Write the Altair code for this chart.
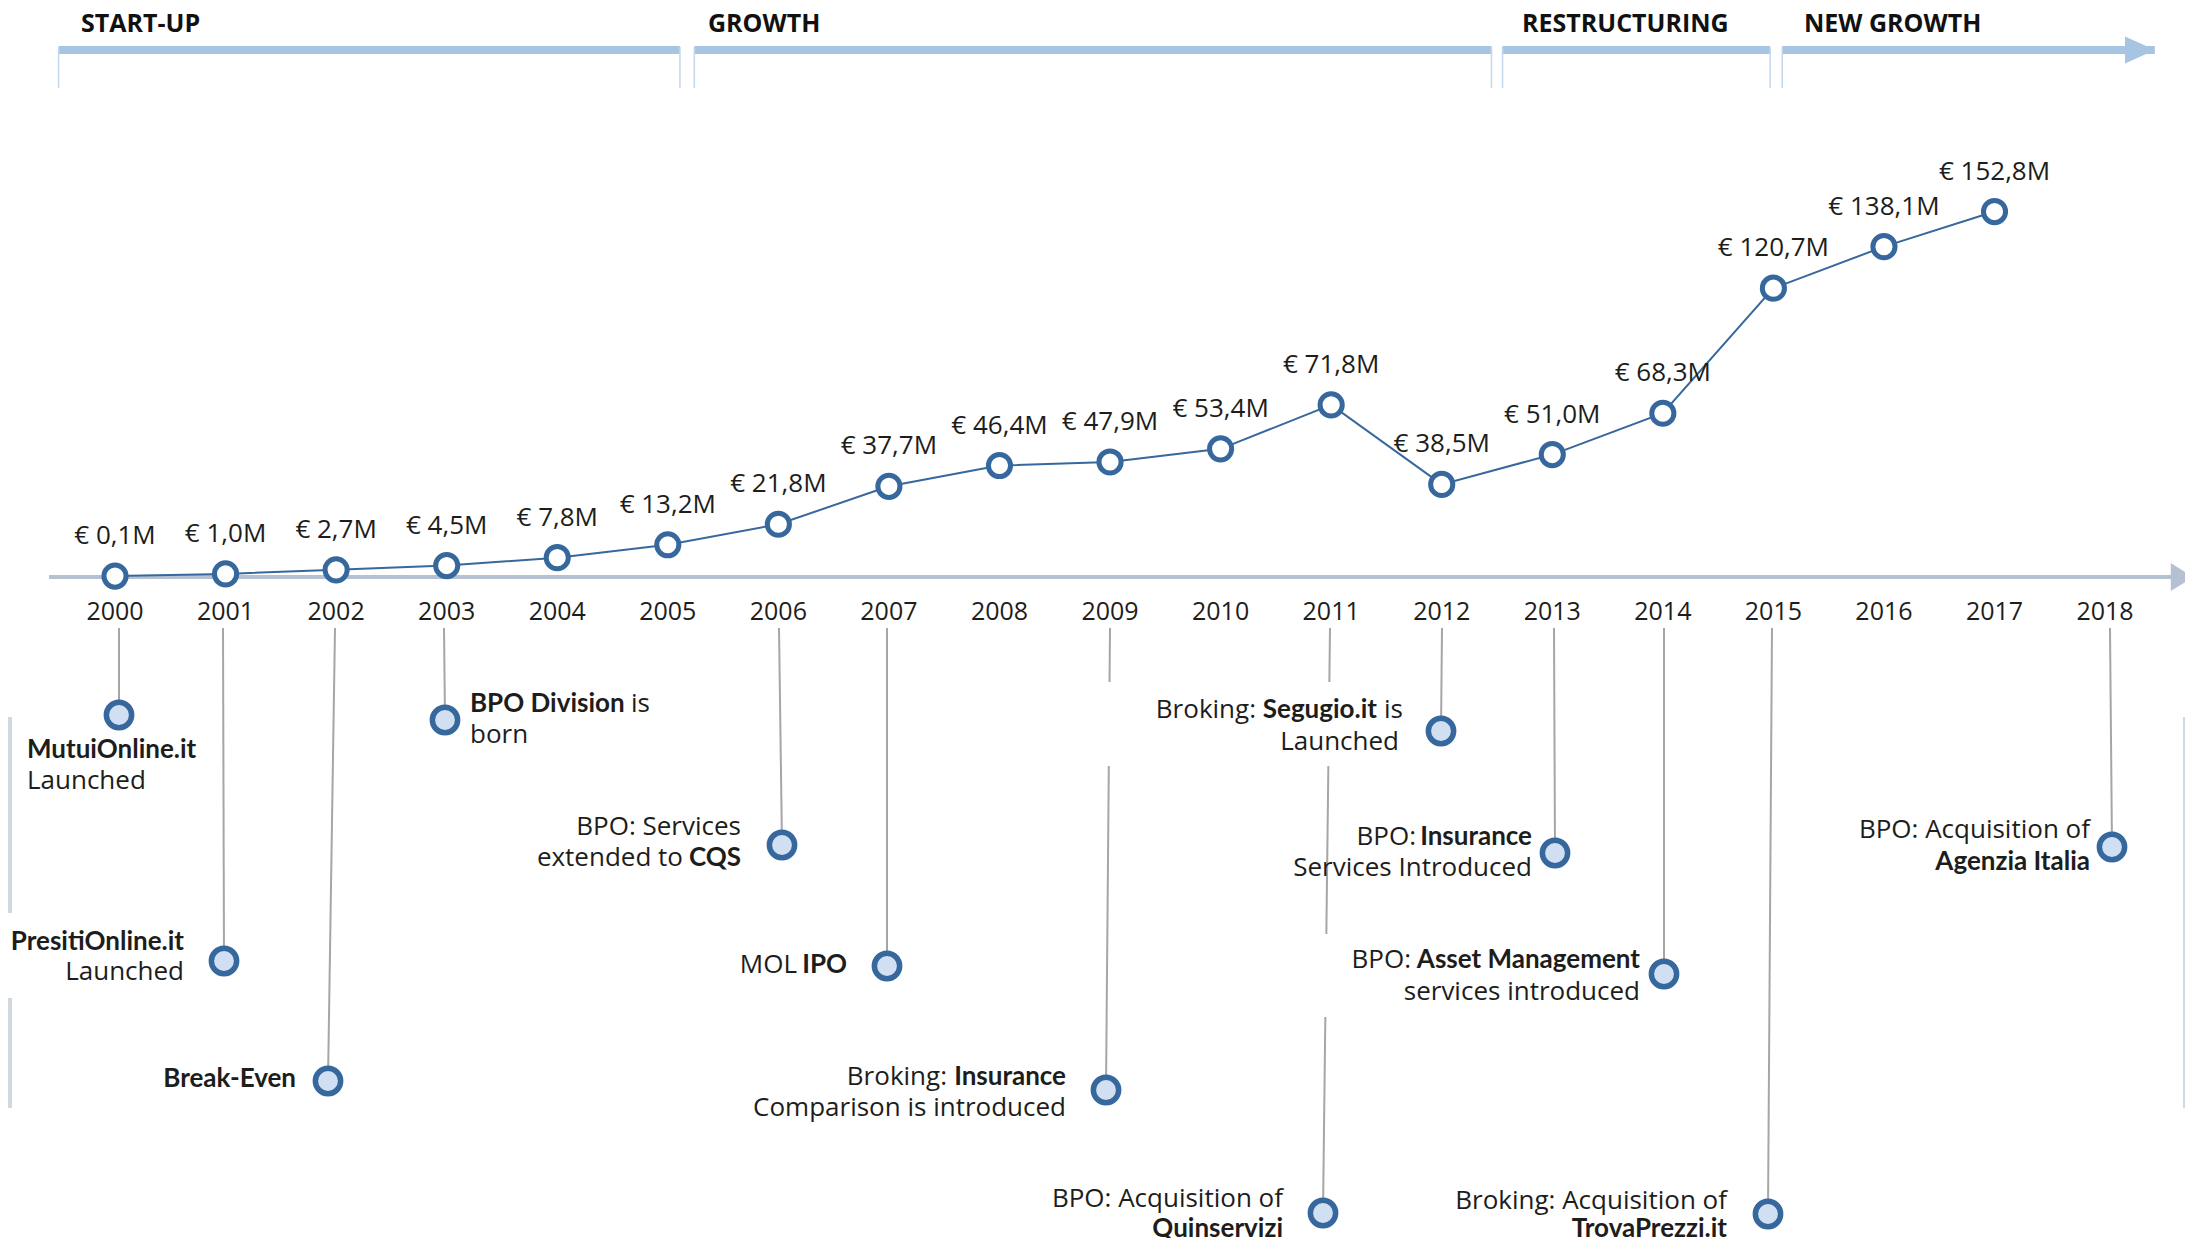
import altair as alt
import pandas as pd

# ---------------- data ----------------
years = list(range(2000, 2018))
revenue = [0.1, 1.0, 2.7, 4.5, 7.8, 13.2, 21.8, 37.7, 46.4, 47.9, 53.4, 71.8,
           38.5, 51.0, 68.3, 120.7, 138.1, 152.8]
revenue_label = ["€ " + f"{v:.1f}".replace(".", ",") + "M" for v in revenue]
axis_years = list(range(2000, 2019))

phase_names = ["START-UP", "GROWTH", "RESTRUCTURING", "NEW GROWTH"]
phase_start = [1999.49, 2005.24, 2012.55, 2015.08]
phase_end = [2005.11, 2012.45, 2014.97, 2018.45]

event_years = [2000, 2001, 2002, 2003, 2006, 2007, 2009, 2011, 2012, 2013, 2014, 2015, 2018]

# event text segments: (event year, text, bold)
seg_year = [2000, 2000, 2001, 2001, 2002, 2003, 2003, 2003, 2006, 2006, 2006, 2007, 2007,
            2009, 2009, 2009, 2011, 2011, 2012, 2012, 2012, 2012, 2013, 2013, 2013,
            2014, 2014, 2014, 2015, 2015, 2018, 2018]
seg_text = ["MutuiOnline.it", "Launched", "PresitiOnline.it", "Launched", "Break-Even",
            "BPO Division", "is", "born", "BPO: Services", "extended to", "CQS", "MOL", "IPO",
            "Broking:", "Insurance", "Comparison is introduced",
            "BPO: Acquisition of", "Quinservizi",
            "Broking:", "Segugio.it", "is", "Launched",
            "BPO:", "Insurance", "Services Introduced",
            "BPO:", "Asset Management", "services introduced",
            "Broking: Acquisition of", "TrovaPrezzi.it",
            "BPO: Acquisition of", "Agenzia Italia"]
seg_bold = [1, 0, 1, 0, 1, 1, 0, 0, 0, 0, 1, 0, 1,
            0, 1, 0, 0, 1, 0, 1, 0, 0, 0, 1, 0,
            0, 1, 0, 0, 1, 0, 1]

# ---------------- layout (reference page pixels) ----------------
W, H = 2177, 1230
X0_PX, STEP_PX = 115.0, 110.56      # page x of year 2000, px per year
ZERO_PX, PX_PER_M = 576.3, 2.387    # page y of revenue 0, px per million


def yr(px):
    return 2000 + (px - X0_PX) / STEP_PX


seg_align = ["left", "left", "right", "right", "right", "left", "left", "left",
             "right", "right", "right", "right", "right", "right", "right", "right",
             "right", "right", "right", "right", "left", "right", "right", "right", "right",
             "right", "right", "right", "right", "right", "right", "right"]
seg_x = [27, 27, 184, 184, 296, 470, 631, 470, 741, 683, 741, 797, 847,
         947, 1066, 1066, 1283, 1283, 1256, 1377, 1384, 1399, 1416, 1532, 1532,
         1411, 1640, 1640, 1727, 1727, 2090, 2090]
seg_y = [758, 789, 950, 980, 1087, 712, 712, 743, 835, 866, 866, 973, 973,
         1085, 1085, 1116, 1207, 1237, 718, 718, 718, 750, 845, 845, 876,
         968, 968, 1000, 1209, 1237, 838, 870]

marker_x = [119, 224, 328, 445, 782, 887, 1106, 1323, 1441, 1555, 1664, 1768, 2112]
marker_y = [715, 961, 1081, 720, 845, 966, 1090, 1213, 731, 853, 974, 1214, 847]
line_top_x = [119, 223, 335, 444, 779, 887, 1110, 1330, 1442, 1554, 1664, 1772, 2110]
LINE_TOP_Y = 628

phase_label_x = [81, 708, 1522, 1804]

FONT = "Open Sans"
BOLD_FONT = "Lato"
NARROW = "Liberation Sans Narrow, Open Sans"
BLUE = "#37689d"
TXT = "#1d1d1b"

XS = alt.Scale(domain=[yr(8), yr(8 + W)], nice=False, zero=False)
YP = alt.Scale(domain=[8, 8 + H], reverse=True, nice=False, zero=False)
YR = alt.Scale(domain=[(ZERO_PX - (8 + H)) / PX_PER_M, (ZERO_PX - 8) / PX_PER_M],
               nice=False, zero=False)


def X(f):
    return alt.X(f, type="quantitative", scale=XS, axis=None)


def X2(f):
    return alt.X2(f)


def YPe(f):
    return alt.Y(f, type="quantitative", scale=YP, axis=None)


# ---------------- tables ----------------
edge_df = pd.DataFrame({
    "x0": [yr(0), yr(0), yr(2183)], "x1": [yr(12), yr(12), yr(2193)],
    "y0": [717, 998, 717], "y1": [913, 1108, 1108]})

phase_df = pd.DataFrame({"name": phase_names, "start": phase_start, "end": phase_end,
                         "lx": [yr(p) for p in phase_label_x], "y": [50] * 4, "ly": [32] * 4})
tick_x = phase_start + phase_end[:-1]
tick_df = pd.DataFrame({"x": tick_x, "y0": [47] * len(tick_x), "y1": [88] * len(tick_x)})
parrow_df = pd.DataFrame({"x": [yr(2140)], "y": [50]})

axis_df = pd.DataFrame({"x0": [yr(49)], "x1": [yr(2172)], "y": [577]})
aarrow_df = pd.DataFrame({"x": [yr(2182)], "y": [577]})
year_df = pd.DataFrame({"year": axis_years, "y": [620] * len(axis_years)})

ev_df = pd.DataFrame({"year": event_years,
                      "xt": [yr(p) for p in line_top_x], "xm": [yr(p) for p in marker_x],
                      "yt": [LINE_TOP_Y] * len(event_years), "ym": marker_y})
box_df = pd.DataFrame({"x0": [yr(1077), yr(1315)], "x1": [yr(1406), yr(1645)],
                       "y0": [682, 934], "y1": [766, 1017]})
seg_df = pd.DataFrame({"year": seg_year, "text": seg_text, "bold": seg_bold,
                       "align": seg_align, "x": [yr(p) for p in seg_x], "y": seg_y})

rev_df = pd.DataFrame({"year": years, "revenue": revenue, "label": revenue_label})

# ---------------- annotation layers ----------------
edges = alt.Chart(edge_df).mark_rect(color="#d0d8e0").encode(
    x=X("x0"), x2=X2("x1"), y=YPe("y0"), y2=alt.Y2("y1"))

phase_bars = alt.Chart(phase_df).mark_rule(color="#a7c4e2", strokeWidth=8, strokeCap="butt").encode(
    x=X("start"), x2=X2("end"), y=YPe("y"))
phase_ticks = alt.Chart(tick_df).mark_rule(color="#c3d7ec", strokeWidth=1.5).encode(
    x=X("x"), y=YPe("y0"), y2=alt.Y2("y1"))
phase_arrow = alt.Chart(parrow_df).mark_point(
    shape="M-1,-0.9L1,0L-1,0.9Z", size=900, filled=True, color="#a7c4e2", opacity=1
).encode(x=X("x"), y=YPe("y"))
phase_labels = alt.Chart(phase_df).mark_text(
    font=NARROW, fontSize=25, fontWeight="bold", align="left", baseline="alphabetic", color="#111111"
).encode(x=X("lx"), y=YPe("ly"), text="name:N")

axis_line = alt.Chart(axis_df).mark_rule(color="#b5c0d2", strokeWidth=4).encode(
    x=X("x0"), x2=X2("x1"), y=YPe("y"))
axis_arrow = alt.Chart(aarrow_df).mark_point(
    shape="M-0.8,-1L0.8,0L-0.8,1Z", size=784, filled=True, color="#b5c0d2", opacity=1
).encode(x=X("x"), y=YPe("y"))
year_labels = alt.Chart(year_df).mark_text(
    font=FONT, fontSize=25, align="center", baseline="alphabetic", color=TXT
).encode(x=X("year"), y=YPe("y"), text="year:N")

ev_lines = alt.Chart(ev_df).mark_rule(color="#a6a6a6", strokeWidth=2).encode(
    x=X("xt"), x2=X2("xm"), y=YPe("yt"), y2=alt.Y2("ym"))
boxes = alt.Chart(box_df).mark_rect(color="white").encode(
    x=X("x0"), x2=X2("x1"), y=YPe("y0"), y2=alt.Y2("y1"))
ev_markers = alt.Chart(ev_df).mark_point(
    shape="circle", filled=True, fill="#d0e0f2", stroke=BLUE, strokeWidth=5.5, size=640, opacity=1
).encode(x=X("xm"), y=YPe("ym"))


def seg_layer(bold, align):
    return alt.Chart(seg_df).transform_filter(
        f"datum.bold == {bold} && datum.align == '{align}'"
    ).mark_text(
        font=BOLD_FONT if bold else FONT, fontSize=26, fontWeight="bold" if bold else "normal",
        align=align, baseline="alphabetic", color=TXT
    ).encode(x=X("x"), y=YPe("y"), text="text:N")


annot = alt.layer(
    edges, phase_bars, phase_ticks, phase_arrow, phase_labels,
    axis_line, axis_arrow, year_labels,
    ev_lines, boxes, ev_markers,
    seg_layer(0, "left"), seg_layer(1, "left"), seg_layer(0, "right"), seg_layer(1, "right"),
)

# ---------------- revenue layers ----------------
YRe = alt.Y("revenue:Q", scale=YR, axis=None)
rev_line = alt.Chart(rev_df).mark_line(color=BLUE, strokeWidth=2).encode(x=X("year"), y=YRe)
rev_pts = alt.Chart(rev_df).mark_point(
    shape="circle", filled=True, fill="white", stroke=BLUE, strokeWidth=5, size=490, opacity=1
).encode(x=X("year"), y=YRe)
rev_lbl = alt.Chart(rev_df).mark_text(
    font=FONT, fontSize=26, align="center", baseline="alphabetic", dy=-32, color=TXT
).encode(x=X("year"), y=YRe, text="label:N")
rev = alt.layer(rev_line, rev_pts, rev_lbl)

chart = alt.layer(annot, rev).resolve_scale(y="independent").properties(
    width=W, height=H, padding=0, autosize=alt.AutoSizeParams(type="none"),
    background="white",
).configure_view(stroke=None)

chart.save("out.html", embed_options={"renderer": "svg", "actions": False})
